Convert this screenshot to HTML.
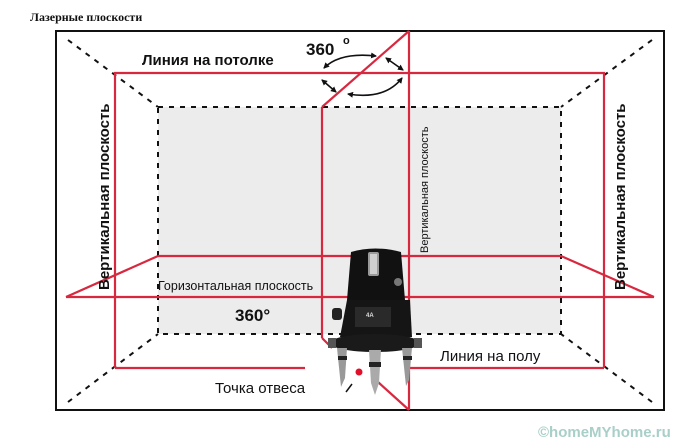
<!DOCTYPE html>
<html><head><meta charset="utf-8"><style>
html,body{margin:0;padding:0;background:#fff;width:700px;height:444px;overflow:hidden}
svg{display:block}
text{font-family:"Liberation Sans",sans-serif;font-weight:bold;fill:#111}
</style></head><body>
<svg width="700" height="444" viewBox="0 0 700 444" xmlns="http://www.w3.org/2000/svg">
<defs>
<marker id="ah" markerWidth="6" markerHeight="6" refX="5" refY="3" orient="auto-start-reverse" markerUnits="userSpaceOnUse"><path d="M0,0 L6,3 L0,6 z" fill="#111"/></marker>
</defs>
<text x="30" y="21" style="font-family:'Liberation Serif',serif;font-size:12px;font-weight:bold">Лазерные плоскости</text>
<rect x="158" y="107" width="403" height="227" fill="#ececec"/>
<rect x="56" y="31" width="608" height="379" fill="none" stroke="#111" stroke-width="2"/>
<g stroke="#111" stroke-width="2" stroke-dasharray="5,6" fill="none">
<rect x="158" y="107" width="403" height="227"/>
<line x1="68" y1="40" x2="158" y2="107"/>
<line x1="652" y1="40" x2="561" y2="107"/>
<line x1="68" y1="402" x2="158" y2="334"/>
<line x1="652" y1="402" x2="561" y2="334"/>
</g>
<g stroke="#d8283f" stroke-width="2.2" fill="none">
<polyline points="115,368 115,73 604,73 604,368"/>
<line x1="115" y1="368" x2="305" y2="368"/>
<line x1="409" y1="368" x2="604" y2="368"/>
<line x1="158" y1="256" x2="561" y2="256"/>
<line x1="66" y1="297" x2="654" y2="297"/>
<line x1="158" y1="256" x2="66" y2="297"/>
<line x1="561" y1="256" x2="654" y2="297"/>
<line x1="409" y1="31" x2="409" y2="410"/>
<line x1="409" y1="31" x2="322" y2="107"/>
<line x1="322" y1="107" x2="322" y2="338"/>
<line x1="322" y1="338" x2="332" y2="348"/>
<line x1="378" y1="382" x2="409" y2="410"/>
</g>
<g stroke="#111" stroke-width="1.6" fill="none" marker-start="url(#ah)" marker-end="url(#ah)">
<path d="M324,68 Q340,52 376,56"/>
<path d="M386,58 L403,70"/>
<path d="M322,80 L336,92"/>
<path d="M348,94 Q385,100 402,78"/>
</g>
<text x="306" y="55" style="font-size:17px">360</text>
<text x="343" y="44" style="font-size:11px">o</text>
<text x="142" y="65" style="font-size:15px">Линия на потолке</text>
<text transform="translate(109,290) rotate(-90)" style="font-size:15px">Вертикальная плоскость</text>
<text transform="translate(625,290) rotate(-90)" style="font-size:15px">Вертикальная плоскость</text>
<text transform="translate(428,253) rotate(-90)" style="font-size:11px;font-weight:normal">Вертикальная плоскость</text>
<text x="158" y="290" style="font-size:12.5px;font-weight:normal">Горизонтальная плоскость</text>
<text x="235" y="321" style="font-size:17px">360°</text>
<text x="440" y="361" style="font-size:15px;font-weight:normal">Линия на полу</text>
<text x="215" y="393" style="font-size:15px;font-weight:normal">Точка отвеса</text>
<!-- device -->
<g>
<path d="M351,252 Q375,245 401,252 L405,300 L347,300 Z" fill="#111"/>
<rect x="368" y="252" width="11" height="24" rx="2" fill="#9a9a9a"/>
<rect x="370" y="254" width="7" height="20" fill="#cfcfcf"/>
<circle cx="398" cy="282" r="4" fill="#777"/>
<path d="M347,300 L410,300 L412,337 L340,337 Z" fill="#151515"/>
<rect x="332" y="308" width="10" height="12" rx="3" fill="#222"/>
<rect x="355" y="307" width="36" height="20" fill="#2a2a2a"/>
<text x="366" y="317" style="font-size:6px;fill:#ddd">4A</text>
<ellipse cx="375" cy="343" rx="45" ry="9" fill="#1a1a1a"/>
<rect x="328" y="338" width="8" height="10" fill="#555"/>
<rect x="414" y="338" width="8" height="10" fill="#555"/>
<path d="M337,348 L347,348 L345,378 L341,387 Z" fill="#999"/>
<path d="M369,350 L381,350 L379,383 L375,395 L371,383 Z" fill="#aaa"/>
<path d="M402,348 L412,348 L409,380 L406,386 Z" fill="#999"/>
<rect x="369" y="362" width="12" height="5" fill="#222"/>
<rect x="338" y="356" width="9" height="4" fill="#222"/>
<rect x="403" y="356" width="9" height="4" fill="#222"/>
</g>
<circle cx="359" cy="372" r="3.5" fill="#e0102a"/>
<line x1="352" y1="384" x2="346" y2="392" stroke="#111" stroke-width="1.5"/>
<text x="538" y="437" style="font-size:15px;fill:#a8cfc8">©homeMYhome.ru</text>
</svg>
</body></html>
